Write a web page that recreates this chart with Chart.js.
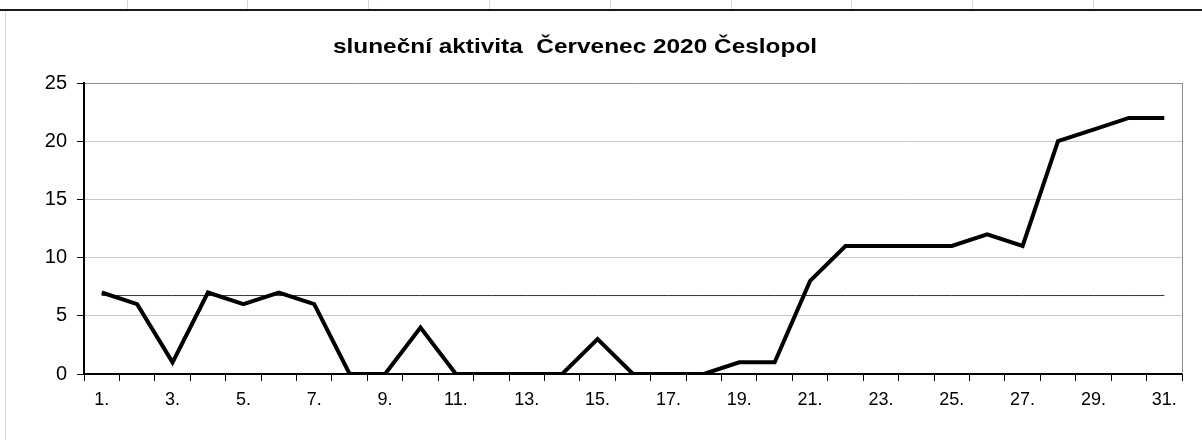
<!DOCTYPE html>
<html lang="cs">
<head>
<meta charset="utf-8">
<title>sluneční aktivita Červenec 2020 Česlopol</title>
<script src="https://cdn.jsdelivr.net/npm/chart.js@4.4.1/dist/chart.umd.min.js"></script>
<style>
    html, body {
        margin: 0;
        padding: 0;
        background: #ffffff;
    }
    #obal {
        position: relative;
        width: 1202px;
        height: 440px;
        overflow: hidden;
    }
    #bunky {
        position: absolute;
        left: 0;
        top: 0;
        width: 1202px;
        height: 9px;
    }
    .bunka {
        position: absolute;
        top: 0;
        width: 1px;
        height: 9px;
        background: #d4dbe6;
    }
    #okraj {
        position: absolute;
        left: 0;
        top: 9px;
        width: 1202px;
        height: 2px;
        background: #1a1a1a;
    }
    #levyOkraj {
        position: absolute;
        left: 5px;
        top: 11px;
        width: 1px;
        height: 429px;
        background: #d4dbe6;
    }
    #graf {
        position: absolute;
        left: 0;
        top: 0;
    }
</style>
</head>
<body>
<div id="obal">
    <div id="bunky"></div>
    <div id="okraj"></div>
    <div id="levyOkraj"></div>
    <canvas id="graf" width="1202" height="440"></canvas>
</div>
<script>
const nadpis = 'sluneční aktivita  Červenec 2020 Česlopol';
const dny = ['1.', '2.', '3.', '4.', '5.', '6.', '7.', '8.', '9.', '10.',
    '11.', '12.', '13.', '14.', '15.', '16.', '17.', '18.', '19.', '20.',
    '21.', '22.', '23.', '24.', '25.', '26.', '27.', '28.', '29.', '30.', '31.'];
const aktivita = [7, 6, 1, 7, 6, 7, 6, 0, 0, 4,
    0, 0, 0, 0, 3, 0, 0, 0, 1, 1,
    8, 11, 11, 11, 11, 12, 11, 20, 21, 22, 22];
const prumer = 6.74;
const osaY = [0, 5, 10, 15, 20, 25];

// svisle cary bunek tabulky nahore
const bunkyElem = document.querySelector('#bunky');
[127, 247, 368, 489, 610, 731, 851, 972, 1093].forEach(x => {
    const d = document.createElement('div');
    d.className = 'bunka';
    d.style.left = x + 'px';
    bunkyElem.appendChild(d);
});

const pismo = "'Liberation Sans', Arial, sans-serif";

// nadpis je v predloze roztazeny do sirky, proto vlastni kresleni
const nadpisPlugin = {
    id: 'nadpisPlugin',
    afterDraw(chart) {
        const ctx = chart.ctx;
        ctx.save();
        ctx.font = 'bold 20px ' + pismo;
        ctx.fillStyle = '#000000';
        ctx.textAlign = 'center';
        ctx.textBaseline = 'alphabetic';
        ctx.translate(575, 53);
        ctx.scale(1.22, 1);
        ctx.fillText(nadpis, 0, 0);
        ctx.restore();
    }
};

const pravyOkraj = {
    id: 'pravyOkraj',
    afterDraw(chart) {
        const a = chart.chartArea;
        const ctx = chart.ctx;
        ctx.save();
        ctx.strokeStyle = '#8c8c8c';
        ctx.lineWidth = 1;
        ctx.beginPath();
        ctx.moveTo(Math.round(a.right) + 0.5, a.top);
        ctx.lineTo(Math.round(a.right) + 0.5, a.bottom);
        ctx.stroke();
        ctx.restore();
    }
};

const ctxGraf = document.getElementById('graf').getContext('2d');
const grafAktivita = new Chart(ctxGraf, {
    type: 'line',
    data: {
        labels: dny,
        datasets: [{
            label: 'průměr',
            data: dny.map(() => prumer),
            borderColor: '#333333',
            borderWidth: 1,
            pointRadius: 0,
            tension: 0,
            order: 2
        }, {
            label: 'sluneční aktivita',
            data: aktivita,
            borderColor: '#000000',
            borderWidth: 4,
            pointRadius: 0,
            tension: 0,
            borderJoinStyle: 'miter',
            order: 1
        }]
    },
    options: {
        responsive: false,
        animation: false,
        devicePixelRatio: 1,
        layout: {
            padding: { left: 40, top: 83, right: 20, bottom: 20 }
        },
        plugins: {
            legend: { display: false },
            title: { display: false },
            tooltip: { enabled: false }
        },
        scales: {
            x: {
                offset: true,
                afterFit: scale => { scale.height = 46; },
                grid: {
                    offset: true,
                    drawOnChartArea: false,
                    tickLength: 7,
                    tickColor: '#000000',
                    tickWidth: 1
                },
                border: { color: '#000000', width: 2 },
                ticks: {
                    autoSkip: false,
                    maxRotation: 0,
                    minRotation: 0,
                    padding: 8,
                    color: '#000000',
                    font: { family: pismo, size: 18 },
                    callback: function (value, index) {
                        return index % 2 === 0 ? dny[index] : '';
                    }
                }
            },
            y: {
                min: 0,
                max: 25,
                afterFit: scale => { scale.width = 44; },
                afterBuildTicks: scale => {
                    scale.ticks = osaY.map(v => ({ value: v }));
                },
                grid: {
                    color: ctx => ctx.tick && ctx.tick.value === 25 ? '#8c8c8c' : '#c8c8c8',
                    lineWidth: 1,
                    tickLength: 7,
                    tickColor: '#000000'
                },
                border: { color: '#000000', width: 2 },
                ticks: {
                    padding: 10,
                    color: '#000000',
                    font: { family: pismo, size: 20 }
                }
            }
        }
    },
    plugins: [nadpisPlugin, pravyOkraj]
});
</script>
</body>
</html>
